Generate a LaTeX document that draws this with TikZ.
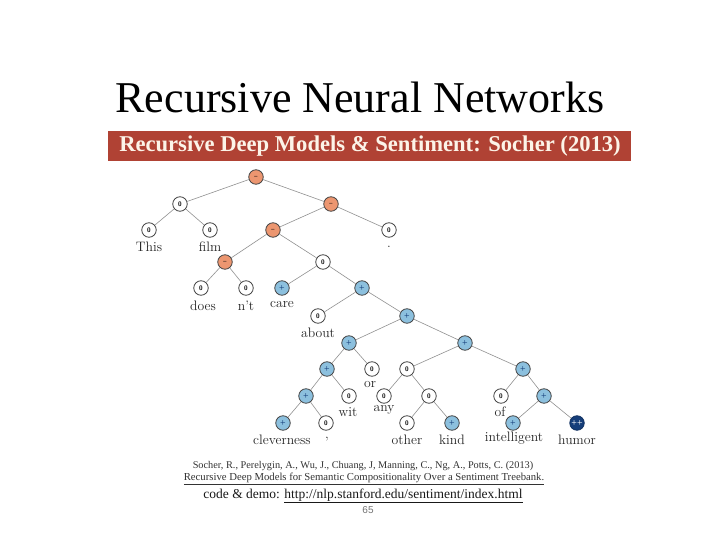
\documentclass[tikz,border=0pt]{standalone}
\usepackage{fontspec}
\newfontfamily\titlefont{Liberation Serif}
\newfontfamily\bannerfont{Liberation Serif}
\newfontfamily\numfont{Liberation Sans}
\definecolor{banner}{RGB}{176,66,52}
\definecolor{cream}{RGB}{252,244,232}
\definecolor{negc}{RGB}{236,150,112}
\definecolor{posc}{RGB}{140,192,222}
\definecolor{ppc}{RGB}{22,62,122}
\definecolor{edgec}{RGB}{145,145,145}
\definecolor{ringc}{RGB}{70,70,70}
\tikzset{
  tn/.style={circle, draw=ringc, line width=0.8pt, fill=white, minimum size=14.5pt, inner sep=0pt,
    font=\sffamily\bfseries\fontsize{6.5}{6.5}\selectfont},
  negnode/.style={tn, fill=negc},
  posnode/.style={tn, fill=posc, text=ppc},
  pposnode/.style={tn, fill=ppc, draw=ppc!80!black, text=white},
  lbl/.style={inner sep=0pt, font=\fontsize{13.7}{14}\selectfont, text=black!85},
  treeedge/.style={draw=edgec, line width=0.6pt},
}
\begin{document}
\begin{tikzpicture}[x=1pt,y=-1pt]
\useasboundingbox (0,0) rectangle (720,540);
\fill[white] (0,0) rectangle (720,540);
\node[font=\titlefont\fontsize{44}{46}\selectfont] (title) at (360,97) {Recursive Neural Networks};
\fill[banner] (108,131) rectangle (631,161);
\node[font=\bannerfont\bfseries\fontsize{22.6}{24}\selectfont, text=cream] (bantext) at (370,146) {Recursive Deep Models \& Sentiment: Socher (2013)};
% tree nodes
\node[negnode] (r) at (256,177) {--};
\node[tn] (a) at (180,204) {0};
\node[tn] (this) at (149,230) {0};
\node[tn] (film) at (210,230) {0};
\node[negnode] (b) at (331,204) {--};
\node[tn] (dot) at (389,230) {0};
\node[negnode] (c) at (273,230) {--};
\node[negnode] (d) at (225,262) {--};
\node[tn] (does) at (201,288) {0};
\node[tn] (nt) at (246,288) {0};
\node[tn] (e) at (323,262) {0};
\node[posnode] (care) at (282,288) {+};
\node[posnode] (f) at (362,288) {+};
\node[tn] (about) at (318,316) {0};
\node[posnode] (g) at (407,316) {+};
\node[posnode] (h) at (349,343) {+};
\node[posnode] (i) at (465,343) {+};
\node[posnode] (j) at (327,369) {+};
\node[tn] (or) at (372,369) {0};
\node[posnode] (k) at (306,396) {+};
\node[tn] (wit) at (349,396) {0};
\node[posnode] (clev) at (283,423) {+};
\node[tn] (comma) at (326,423) {0};
\node[tn] (l) at (407,369) {0};
\node[tn] (any) at (384,396) {0};
\node[tn] (m) at (429,396) {0};
\node[tn] (other) at (407,423) {0};
\node[posnode] (kind) at (452,423) {+};
\node[posnode] (n) at (523,369) {+};
\node[tn] (of) at (501,396) {0};
\node[posnode] (o) at (544,396) {+};
\node[posnode] (intel) at (513,423) {+};
\node[pposnode] (humor) at (577,423) {++};
% edges
\foreach \p/\q in {r/a, r/b, a/this, a/film, b/c, b/dot, c/d, c/e, d/does, d/nt, e/care, e/f, f/about, f/g, g/h, g/i, h/j, h/or, j/k, j/wit, k/clev, k/comma, i/l, i/n, l/any, l/m, m/other, m/kind, n/of, n/o, o/intel, o/humor}
  \draw[treeedge] (\p) -- (\q);
% labels
\node[lbl] (tthis) at (149,247) {This};
\node[lbl] (tfilm) at (210,247) {film};
\node[lbl] (tdot) at (389,247) {.};
\node[lbl] (tdoes) at (203,306) {does};
\node[lbl] (tnt) at (246,306) {n'{}t};
\node[lbl] (tcare) at (282,305) {care};
\node[lbl] (tabout) at (318,333) {about};
\node[lbl] (tor) at (370,385) {or};
\node[lbl] (twit) at (348,412) {wit};
\node[lbl] (tany) at (384,410) {any};
\node[lbl] (tof) at (500,412) {of};
\node[lbl] (tclev) at (282,440) {cleverness};
\node[lbl] (tcomma) at (327,439) {,};
\node[lbl] (tother) at (407,440) {other};
\node[lbl] (tkind) at (452,440) {kind};
\node[lbl] (tintel) at (514,438) {intelligent};
\node[lbl] (thumor) at (577,440) {humor};
% citation
\node[font=\bannerfont\fontsize{10.3}{11}\selectfont, text=black!80] (cit1) at (363,466) {Socher, R., Perelygin, A., Wu, J., Chuang, J, Manning, C., Ng, A., Potts, C. (2013)};
\node[font=\bannerfont\fontsize{10.7}{11}\selectfont, text=black!80] (cit2) at (364,479) {\underline{Recursive Deep Models for Semantic Compositionality Over a Sentiment Treebank.}};
\node[font=\bannerfont\fontsize{13.5}{14}\selectfont, text=black!90] (code) at (363,496) {code \& demo: \underline{http://nlp.stanford.edu/sentiment/index.html}};
\node[font=\numfont\fontsize{10}{11}\selectfont, text=black!55] (pg) at (368,510) {65};
\end{tikzpicture}
\end{document}
